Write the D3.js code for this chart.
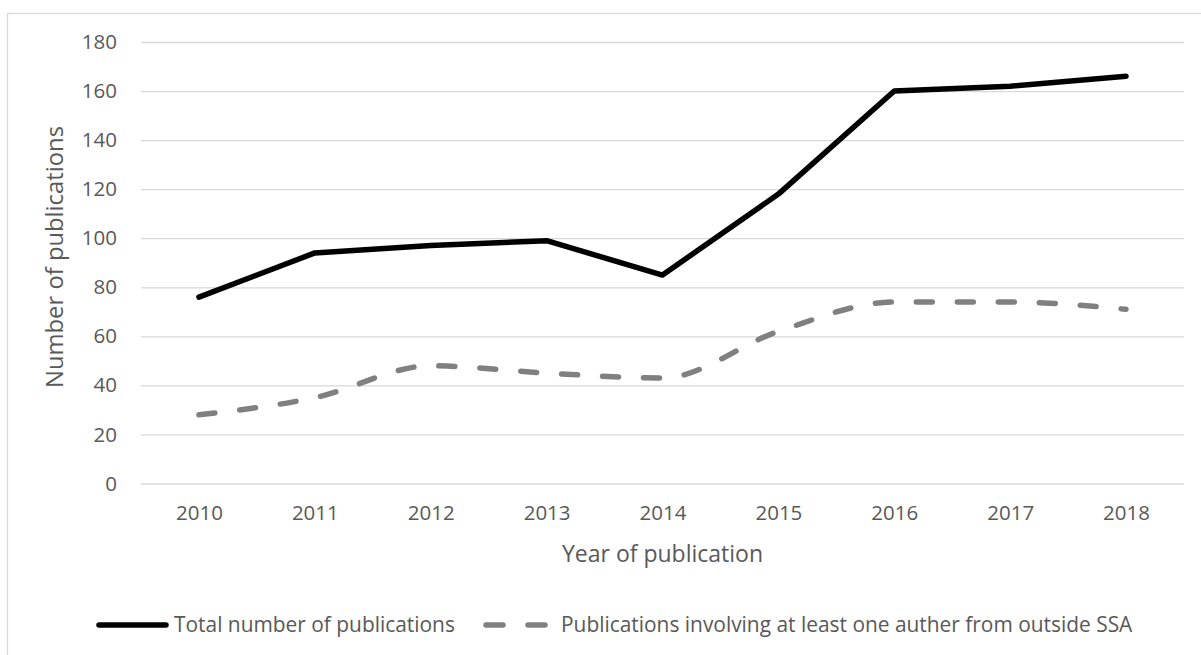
<!DOCTYPE html>
<html>
<head>
<meta charset="utf-8">
<script src="https://cdn.jsdelivr.net/npm/d3@7"></script>
<style>
  html, body { margin: 0; padding: 0; background: #fff; }
  svg { display: block; font-family: "Open Sans", "Noto Sans", sans-serif; }
</style>
</head>
<body>
<svg id="chart" width="1201" height="655"></svg>
<script>
const years = ["2010","2011","2012","2013","2014","2015","2016","2017","2018"];
const totalPubs = [76, 94, 97, 99, 85, 118, 160, 162, 166];
const outsidePubs = [28, 35, 48, 45, 43, 62, 74, 74, 71];
const yTicks = [0, 20, 40, 60, 80, 100, 120, 140, 160, 180];
const seriesNames = ["Total number of publications", "Publications involving at least one auther from outside SSA"];
const xTitle = "Year of publication";
const yTitle = "Number of publications";

const svg = d3.select("#chart");
const W = 1201, H = 655;
const plot = { left: 141, right: 1184, top: 42, bottom: 483.5 };
const textColor = "#595959";
const gridColor = "#d9d9d9";
const FONT = '"Open Sans", "Noto Sans", sans-serif';

svg.append("rect").attr("width", W).attr("height", H).attr("fill", "#fff");
// chart area border
svg.append("rect").attr("x", 7.5).attr("y", 13.5).attr("width", W + 10).attr("height", H + 10)
  .attr("fill", "none").attr("stroke", gridColor).attr("stroke-width", 1.3);

const x = d3.scalePoint().domain(years).range([plot.left, plot.right]).padding(0.5);
const y = d3.scaleLinear().domain([0, 180]).range([plot.bottom, plot.top]);

// y gridlines + labels
const yAxis = d3.axisLeft(y).tickValues(yTicks).tickSize(-(plot.right - plot.left)).tickPadding(24);
const gy = svg.append("g").attr("transform", `translate(${plot.left},0)`).call(yAxis);
gy.select(".domain").remove();
gy.selectAll(".tick line").attr("stroke", gridColor).attr("stroke-width", 1.3);
gy.selectAll(".tick text").attr("fill", textColor).style("font-size", "20.5px")
  .style("font-family", FONT);

// x labels
const xAxis = d3.axisBottom(x).tickSize(0).tickPadding(22);
const gx = svg.append("g").attr("transform", `translate(0,${plot.bottom})`).call(xAxis);
gx.select(".domain").remove();
gx.selectAll(".tick text").attr("fill", textColor).style("font-size", "20.5px")
  .style("font-family", FONT);

// axis titles
svg.append("text").attr("x", (plot.left + plot.right) / 2).attr("y", 562)
  .attr("text-anchor", "middle").attr("fill", textColor).style("font-size", "23px").text(xTitle);
svg.append("text").attr("transform", `translate(63,257) rotate(-90)`)
  .attr("text-anchor", "middle").attr("fill", textColor).style("font-size", "23.8px").text(yTitle);

// lines
const lineStraight = d3.line().x((d, i) => x(years[i])).y(d => y(d));
const lineSmooth = d3.line().x((d, i) => x(years[i])).y(d => y(d)).curve(d3.curveMonotoneX);

svg.append("path").datum(outsidePubs).attr("d", lineSmooth)
  .attr("fill", "none").attr("stroke", "#808080").attr("stroke-width", 5.5)
  .attr("stroke-dasharray", "16,25").attr("stroke-linecap", "round").attr("stroke-linejoin", "round");

svg.append("path").datum(totalPubs).attr("d", lineStraight)
  .attr("fill", "none").attr("stroke", "#000").attr("stroke-width", 5.5)
  .attr("stroke-linecap", "round").attr("stroke-linejoin", "round");

// legend
const legY = 625;
const leg = svg.append("g");
leg.append("line").attr("x1", 99).attr("x2", 166).attr("y1", legY).attr("y2", legY)
  .attr("stroke", "#000").attr("stroke-width", 5.5).attr("stroke-linecap", "round");
leg.append("text").attr("x", 174).attr("y", legY).attr("dy", "0.35em").attr("fill", textColor)
  .style("font-size", "20.9px").text(seriesNames[0]);
leg.append("line").attr("x1", 486).attr("x2", 545.5).attr("y1", legY).attr("y2", legY)
  .attr("stroke", "#808080").attr("stroke-width", 5.5).attr("stroke-linecap", "round")
  .attr("stroke-dasharray", "17,25");
leg.append("text").attr("x", 561).attr("y", legY).attr("dy", "0.35em").attr("fill", textColor)
  .style("font-size", "20.9px").text(seriesNames[1]);
</script>
</body>
</html>
